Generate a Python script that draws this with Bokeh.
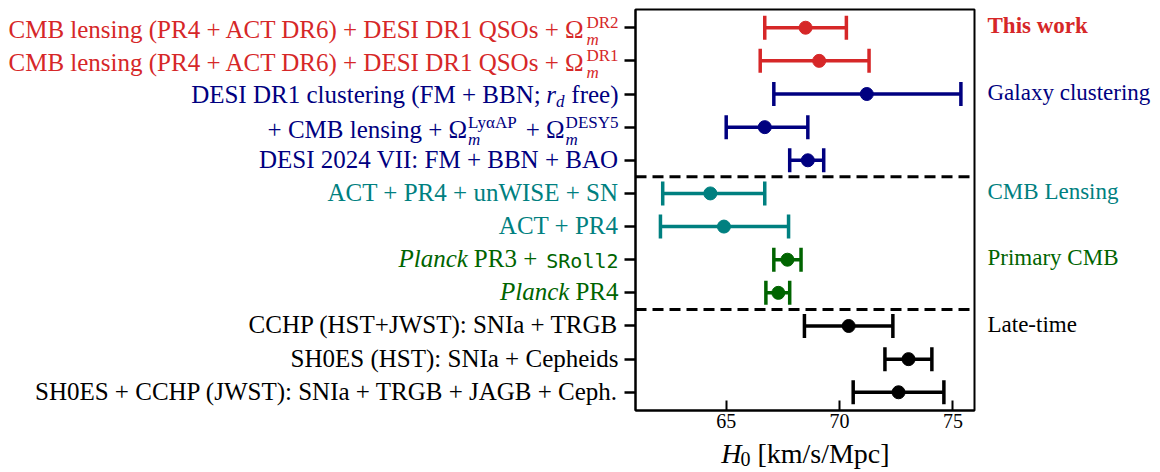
import math
from bokeh.plotting import figure
from bokeh.layouts import row, column
from bokeh.models import Range1d, FixedTicker, Span, ColumnDataSource
from bokeh.core.properties import value
from bokeh.embed import file_html
from bokeh.resources import INLINE

# ---------------- data ----------------
h0_center = [68.5, 69.1, 71.2, 66.7, 68.6, 64.3, 64.9, 67.7, 67.3, 70.4, 73.04, 72.6]
h0_lower = [66.7, 66.5, 67.1, 65.0, 67.8, 62.2, 62.1, 67.1, 66.75, 68.45, 72.0, 70.6]
h0_upper = [70.3, 71.3, 75.35, 68.6, 69.3, 66.7, 67.75, 68.3, 67.8, 72.35, 74.07, 74.6]
row_group = [0, 0, 1, 1, 1, 2, 2, 3, 3, 4, 4, 4]
group_names = ["This work", "Galaxy clustering", "CMB Lensing", "Primary CMB", "Late-time"]
group_colors = ["#d62728", "#000080", "#008080", "#006400", "#000000"]
dashed_after_groups = [1, 3]   # dashed separator below these groups

# row labels split into styled pieces
row_labels = [
    [("CMB lensing (PR4 + ACT DR6) + DESI DR1 QSOs + Ω", "rm"), (("m", "DR2"), "subsup")],
    [("CMB lensing (PR4 + ACT DR6) + DESI DR1 QSOs + Ω", "rm"), (("m", "DR1"), "subsup")],
    [("DESI DR1 clustering (FM + BBN;", "rm"), (6, "gap"), ("r", "it"), ("d", "sub"),
     (6, "gap"), ("free)", "rm")],
    [("+ CMB lensing + Ω", "rm"), (("m", "LyαAP"), "subsup"), (7, "gap"),
     ("+ Ω", "rm"), (("m", "DESY5"), "subsup")],
    [("DESI 2024 VII: FM + BBN + BAO", "rm")],
    [("ACT + PR4 + unWISE + SN", "rm")],
    [("ACT + PR4", "rm")],
    [("Planck", "it"), (6, "gap"), ("PR3 +", "rm"), (9, "gap"), ("SRoll2", "tt")],
    [("Planck", "it"), (6, "gap"), ("PR4", "rm")],
    [("CCHP (HST+JWST): SNIa + TRGB", "rm")],
    [("SH0ES (HST): SNIa + Cepheids", "rm")],
    [("SH0ES + CCHP (JWST): SNIa + TRGB + JAGB + Ceph.", "rm")],
]
xlabel_pieces = ["H", "0", "[km/s/Mpc]"]
x_ticks = [65, 70, 75]

# ---------------- style / geometry ----------------
SERIF = "Liberation Serif"
MONO = "DejaVu Sans Mono"
FS, FS_SMALL, FS_TT, FS_GROUP = 25, 17, 20, 23
BASE_FIX = 0.36   # renderer places the "alphabetic" baseline this many em lower

W = {' ': .25, '(': .333, ')': .333, '+': .564, ';': .278, ':': .278, '.': .25,
     '/': .278, '[': .333, ']': .333,
     'A': .722, 'B': .667, 'C': .667, 'D': .722, 'E': .611, 'F': .556, 'G': .722,
     'H': .722, 'I': .333, 'J': .389, 'L': .611, 'M': .889, 'N': .722, 'O': .722,
     'P': .556, 'Q': .722, 'R': .667, 'S': .556, 'T': .611, 'V': .722, 'W': .944,
     'Y': .722, 'a': .444, 'c': .444, 'd': .5, 'e': .444, 'f': .333, 'g': .5,
     'h': .5, 'i': .278, 'k': .5, 'l': .278, 'm': .75, 'n': .5, 'o': .5, 'p': .5,
     'r': .37, 's': .389, 't': .278, 'u': .5, 'x': .5, 'y': .5, 'Ω': .768, 'α': .55}


def tw(s, size, mono=False):
    if mono:
        return 0.602 * size * len(s)
    return sum(W.get(c, .5) for c in s) * size


nrows = len(h0_center)
TOP, FRAME_H, BOTTOM = 9, 401, 27
LEFT_W, GAP_L, FRAME_W, GAP_R, RIGHT_W = 621, 14, 339, 4, 180
y_pad = 0.55
yr = Range1d(nrows - 1 + y_pad, -y_pad)
ROW_PX = FRAME_H / (nrows - 1 + 2 * y_pad)

# ---------------- main panel ----------------
p = figure(frame_width=FRAME_W, frame_height=FRAME_H,
           min_border_left=GAP_L, min_border_right=GAP_R,
           min_border_top=TOP, min_border_bottom=BOTTOM,
           x_range=Range1d(61.0, 75.95), y_range=yr,
           output_backend="svg", toolbar_location=None)
p.background_fill_color = "white"
p.border_fill_color = "white"
p.grid.visible = False
p.outline_line_color = "black"
p.outline_line_width = 2
p.outline_line_alpha = 1.0

p.xaxis.ticker = FixedTicker(ticks=x_ticks)
p.xaxis.major_tick_in = 10
p.xaxis.major_tick_out = 0
p.xaxis.minor_tick_line_color = None
p.xaxis.major_tick_line_width = 2
p.xaxis.major_label_text_font = SERIF
p.xaxis.major_label_text_font_size = "20px"
p.xaxis.major_label_text_color = "black"
p.xaxis.major_label_standoff = 3
p.xaxis.axis_line_width = 2

p.yaxis.ticker = FixedTicker(ticks=list(range(nrows)))
p.yaxis.major_label_overrides = {i: "" for i in range(nrows)}
p.yaxis.major_label_standoff = 0
p.yaxis.major_tick_in = 0
p.yaxis.major_tick_out = 11
p.yaxis.major_tick_line_width = 2.5
p.yaxis.minor_tick_line_color = None
p.yaxis.axis_line_width = 2

colors = [group_colors[g] for g in row_group]
src = ColumnDataSource(dict(y=list(range(nrows)), x=h0_center, lo=h0_lower,
                            hi=h0_upper, color=colors))

for g in dashed_after_groups:
    last_row = max(i for i, gg in enumerate(row_group) if gg == g)
    p.add_layout(Span(location=last_row + 0.5, dimension="width", line_color="black",
                      line_width=3, line_dash="11 6"))

p.segment(x0="lo", y0="y", x1="hi", y1="y", line_color="color", line_width=3.5, source=src)
for col in ("lo", "hi"):
    p.scatter(x=col, y="y", marker="dash", angle=math.pi / 2, size=24,
              line_color="color", line_width=3.5, source=src)
p.scatter(x="x", y="y", size=13, fill_color="color", line_color="color", source=src)


def side_fig(width, xr, yrange, height_frame, top, bottom):
    f = figure(frame_width=width, frame_height=height_frame, min_border_left=0,
               min_border_right=0, min_border_top=top, min_border_bottom=bottom,
               x_range=xr, y_range=yrange, x_axis_type=None, y_axis_type=None,
               output_backend="svg", toolbar_location=None)
    f.grid.visible = False
    f.outline_line_color = None
    f.background_fill_color = "white"
    f.border_fill_color = "white"
    return f


def put(f, txt, x, y, size, style, color, align, font=SERIF):
    f.text(x=[x], y=[y], text=[txt], text_font=value(font),
           text_font_size=value(f"{size}px"), text_font_style=style,
           text_color=color, text_align=align, text_baseline="alphabetic")


def row_y(r, down_px, size):
    # baseline 'down_px' pixels below row centre (corrected for renderer offset)
    return r + (down_px - BASE_FIX * size) / ROW_PX


# ---------------- left labels panel (x = px offset from main frame left) ----------------
pl = side_fig(LEFT_W, Range1d(-(LEFT_W + GAP_L), -GAP_L), yr, FRAME_H, TOP, BOTTOM)
for r, pieces in enumerate(row_labels):
    color = colors[r]
    kinds = [k for _, k in pieces]
    base = 8 + (3 if "subsup" in kinds else (1 if "sub" in kinds else 0))
    x = -17.0
    for txt, kind in reversed(pieces):
        if kind == "gap":
            x -= txt
        elif kind == "subsup":
            sub, sup = txt
            w = max(tw(sub, FS_SMALL), tw(sup, FS_SMALL))
            left = x - w
            put(pl, sub, left, row_y(r, base + 7, FS_SMALL), FS_SMALL, "italic", color, "left")
            put(pl, sup, left, row_y(r, base - 10, FS_SMALL), FS_SMALL, "normal", color, "left")
            x = left - 1
        elif kind == "sub":
            left = x - tw(txt, FS_SMALL)
            put(pl, txt, left, row_y(r, base + 5, FS_SMALL), FS_SMALL, "italic", color, "left")
            x = left
        elif kind == "tt":
            put(pl, txt, x, row_y(r, base, FS_TT), FS_TT, "normal", color, "right", MONO)
            x -= tw(txt, FS_TT, mono=True)
        else:
            style = "italic" if kind == "it" else "normal"
            put(pl, txt, x, row_y(r, base, FS), FS, style, color, "right")
            x -= tw(txt, FS)

# ---------------- right group labels (x = px offset from main frame right) ----------------
pr = side_fig(RIGHT_W, Range1d(GAP_R, GAP_R + RIGHT_W), yr, FRAME_H, TOP, BOTTOM)
for g, name in enumerate(group_names):
    first_row = row_group.index(g)
    put(pr, name, 13, row_y(first_row, 6.5, FS_GROUP), FS_GROUP,
        "bold" if g == 0 else "normal", group_colors[g], "left")

# ---------------- x-axis label panel (x = px offset from main frame left) ----------------
XL_H = 34
XL = 28
total_w = LEFT_W + GAP_L + FRAME_W + GAP_R + RIGHT_W
px = side_fig(total_w, Range1d(-(LEFT_W + GAP_L), total_w - (LEFT_W + GAP_L)),
              Range1d(XL_H, 0), XL_H, 0, 0)
h_w = tw(xlabel_pieces[0], XL)
sub_w = tw(xlabel_pieces[1], 20)
tot = h_w + sub_w + 6 + tw(xlabel_pieces[2], XL)
x0 = FRAME_W / 2 - tot / 2
xl_base = 26
put(px, xlabel_pieces[0], x0, xl_base - BASE_FIX * XL, XL, "italic", "black", "left")
put(px, xlabel_pieces[1], x0 + h_w - 1, xl_base + 3 - BASE_FIX * 20, 20, "normal", "black", "left")
put(px, xlabel_pieces[2], x0 + h_w + sub_w + 6, xl_base - BASE_FIX * XL, XL, "normal",
    "black", "left")

layout = column(row(pl, p, pr), px)
open("out.html", "w").write(file_html(layout, INLINE))
